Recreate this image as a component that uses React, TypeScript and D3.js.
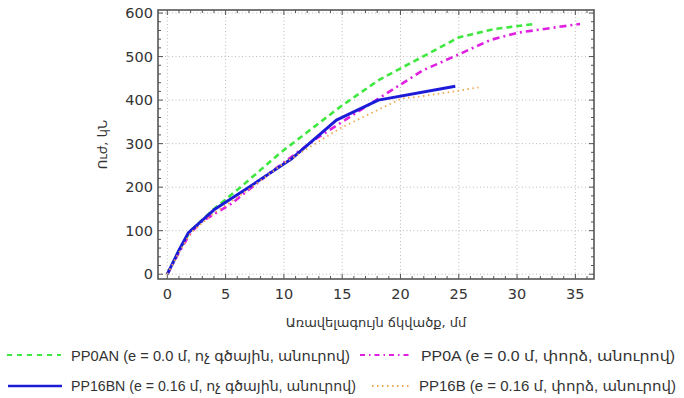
import React from "react";
import * as d3 from "d3";

type Pt = [number, number];

const pp0an: Pt[] = [[0,0],[1,55],[2,100],[4,150],[6.2,198],[9.7,279],[14.9,386],[18.2,447],[25,544],[28,563],[31.5,575]];
const pp0a: Pt[] = [[0,0],[1,50],[2,95],[2.9,120],[5.5,162],[8.7,231],[12.8,312],[18.2,405],[21.9,468],[25,505],[27.7,538],[30.1,555],[35.4,575]];
const pp16bn: Pt[] = [[0,0],[1,55],[1.8,95],[4,148],[7,200],[10.7,266],[14.5,354],[18.1,400],[24.7,432]];
const pp16b: Pt[] = [[0,0],[1,50],[2,95],[4,140],[7,195],[10,255],[14.8,335],[20.1,404],[21.7,408],[26.7,429]];

const xTicks = [0,5,10,15,20,25,30,35];
const yTicks = [0,100,200,300,400,500,600];
const legendNames = [
  "PP0AN (e = 0.0 մ, ոչ գծային, անուրով)",
  "PP0A (e = 0.0 մ, փորձ, անուրով)",
  "PP16BN (e = 0.16 մ, ոչ գծային, անուրով)",
  "PP16B (e = 0.16 մ, փորձ, անուրով)",
];
const xLabel = "Առավելագույն ճկվածք, մմ";
const yLabel = "Ուժ, կՆ";

const L = 158, R = 594, T = 10, B = 279;

export default function App() {
  const x = d3.scaleLinear().domain([-0.8, 36.6]).range([L, R]);
  const y = d3.scaleLinear().domain([-11, 607]).range([B, T]);
  const line = d3.line<Pt>().x(d => x(d[0])).y(d => y(d[1]));

  const series = [
    { data: pp0an, color: "#3ee83e", width: 2.6, dash: "6,4", ldash: "5,5", lw: 1.8 },
    { data: pp0a, color: "#e020e0", width: 2.6, dash: "7,4,2,4", ldash: "5,4,1.5,4", lw: 1.8 },
    { data: pp16bn, color: "#1c1cd8", width: 3, dash: "", ldash: "", lw: 2.4 },
    { data: pp16b, color: "#f0a850", width: 1.8, dash: "1.5,3.5", ldash: "1.5,3.5", lw: 1.8 },
  ];

  const xMinor = d3.range(0, 37, 1);
  const yMinor = d3.range(0, 601, 20);
  const frame = "#555";
  const tickFont = "'DejaVu Sans', sans-serif";
  const legFont = "'Liberation Sans', 'DejaVu Sans', sans-serif";

  const legend = [
    { l1: 7, l2: 61, ly: 355, tx: 71, ty: 361, tl: 279 },
    { l1: 360, l2: 410, ly: 355, tx: 421, ty: 361, tl: 254 },
    { l1: 8, l2: 62, ly: 386, tx: 71, ty: 391, tl: 285 },
    { l1: 372, l2: 410, ly: 386, tx: 419, ty: 391, tl: 257 },
  ];

  return (
    <svg width={684} height={398} style={{ position: "absolute", left: 0, top: 0, background: "#fff" }}>
      {xTicks.map(t => (
        <line key={"gx" + t} x1={x(t)} x2={x(t)} y1={T} y2={B} stroke="#bbb" strokeWidth={1} strokeDasharray="1,2.5" />
      ))}
      {yTicks.map(t => (
        <line key={"gy" + t} x1={L} x2={R} y1={y(t)} y2={y(t)} stroke="#bbb" strokeWidth={1} strokeDasharray="1,2.5" />
      ))}
      {xMinor.map(t => {
        const len = t % 5 === 0 ? 5 : 3;
        return (
          <g key={"mx" + t}>
            <line x1={x(t)} x2={x(t)} y1={B} y2={B - len} stroke={frame} strokeWidth={1} />
            <line x1={x(t)} x2={x(t)} y1={T} y2={T + len} stroke={frame} strokeWidth={1} />
          </g>
        );
      })}
      {yMinor.map(t => {
        const len = t % 100 === 0 ? 5 : 3;
        return (
          <g key={"my" + t}>
            <line x1={L} x2={L + len} y1={y(t)} y2={y(t)} stroke={frame} strokeWidth={1} />
            <line x1={R} x2={R - len} y1={y(t)} y2={y(t)} stroke={frame} strokeWidth={1} />
          </g>
        );
      })}
      {series.map((s, i) => (
        <path key={"s" + i} d={line(s.data) || ""} fill="none" stroke={s.color} strokeWidth={s.width}
          strokeDasharray={s.dash || undefined} strokeLinejoin="round" />
      ))}
      <rect x={L} y={T} width={R - L} height={B - T} fill="none" stroke={frame} strokeWidth={1.6} />
      {xTicks.map(t => (
        <text key={"tx" + t} x={x(t)} y={B + 20} textAnchor="middle" fontFamily={tickFont} fontSize={14.5} fill="#333">{t}</text>
      ))}
      {yTicks.map(t => (
        <text key={"ty" + t} x={153} y={y(t) + 5} textAnchor="end" fontFamily={tickFont} fontSize={14.5} fill="#333">{t}</text>
      ))}
      <text x={(L + R) / 2} y={327} textAnchor="middle" fontFamily={tickFont} fontSize={13} fill="#333">{xLabel}</text>
      <text transform={`translate(107,${(T + B) / 2}) rotate(-90)`} textAnchor="middle" fontFamily={tickFont} fontSize={13} fill="#333">{yLabel}</text>
      {series.map((s, i) => (
        <g key={"l" + i}>
          <line x1={legend[i].l1} x2={legend[i].l2} y1={legend[i].ly} y2={legend[i].ly}
            stroke={s.color} strokeWidth={s.lw} strokeDasharray={s.ldash || undefined} />
          <text x={legend[i].tx} y={legend[i].ty} fontFamily={legFont} fontSize={14.6} fill="#333"
            textLength={legend[i].tl} lengthAdjust="spacingAndGlyphs">{legendNames[i]}</text>
        </g>
      ))}
    </svg>
  );
}
